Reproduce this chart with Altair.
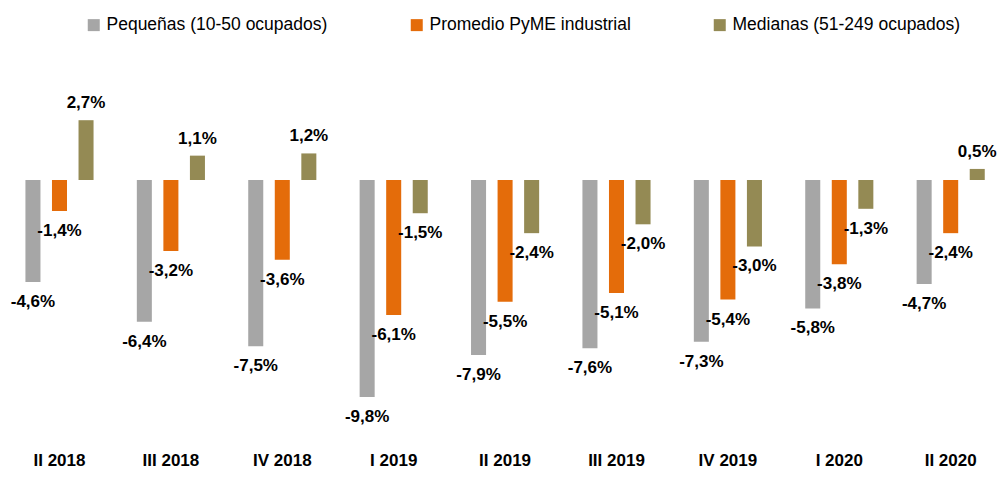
import altair as alt
import pandas as pd

periods = ["II 2018", "III 2018", "IV 2018", "I 2019", "II 2019", "III 2019", "IV 2019", "I 2020", "II 2020"]
series = ["Pequeñas (10-50 ocupados)", "Promedio PyME industrial", "Medianas (51-249 ocupados)"]
pequenas = [-4.6, -6.4, -7.5, -9.8, -7.9, -7.6, -7.3, -5.8, -4.7]
promedio = [-1.4, -3.2, -3.6, -6.1, -5.5, -5.1, -5.4, -3.8, -2.4]
medianas = [2.7, 1.1, 1.2, -1.5, -2.4, -2.0, -3.0, -1.3, 0.5]
colors = ["#A6A6A6", "#E46C0A", "#948A54"]

rows = []
for s, vals in zip(series, [pequenas, promedio, medianas]):
    for p, v in zip(periods, vals):
        rows.append({"periodo": p, "serie": s, "valor": v,
                     "etiqueta": f"{v:.1f}%".replace(".", ",")})
df = pd.DataFrame(rows)

FONT = "Liberation Sans, Arial"

x = alt.X("periodo:N", sort=periods, title=None,
          scale=alt.Scale(paddingInner=0.2837, paddingOuter=0.0853, align=0.61),
          axis=alt.Axis(labelAngle=0, labelFont=FONT, labelFontSize=17, labelFontWeight="bold",
                        labelColor="#000000", ticks=False, domain=False, labelPadding=12,
                        labelBaseline="top", grid=False))
xo = alt.XOffset("serie:N", sort=series,
                 scale=alt.Scale(paddingInner=0.434, paddingOuter=0.22))
y = alt.Y("valor:Q", title=None, scale=alt.Scale(domain=[-11.738, 4.515], nice=False, zero=False),
          axis=None)

base = alt.Chart(df)

bars = base.mark_bar().encode(
    x=x, xOffset=xo, y=y, y2=alt.datum(0),
    color=alt.Color("serie:N", sort=series, scale=alt.Scale(domain=series, range=colors),
                    legend=alt.Legend(title=None, orient="none", legendX=77, legendY=-64,
                                      direction="horizontal", columns=3, columnPadding=80,
                                      symbolType="square", symbolSize=144, symbolStrokeWidth=0,
                                      labelFont=FONT, labelFontSize=17.5, labelColor="#000000",
                                      labelOffset=4, padding=0, labelLimit=400)),
)

pos = base.transform_filter("datum.valor >= 0").mark_text(
    baseline="middle", dy=-17, font=FONT, fontSize=17, fontWeight="bold", color="#000000"
).encode(x=x, xOffset=xo, y=y, text="etiqueta:N")

neg = base.transform_filter("datum.valor < 0").mark_text(
    baseline="middle", dy=20, font=FONT, fontSize=17, fontWeight="bold", color="#000000"
).encode(x=x, xOffset=xo, y=y, text="etiqueta:N")

chart = (bars + pos + neg).properties(
    width=990, height=360,
    background="#FFFFFF",
    autosize=alt.AutoSizeParams(type="none"),
    padding={"left": 0, "right": 0, "top": 72, "bottom": 30},
).configure_view(strokeWidth=0, stroke=None)

chart.save("out.html", embed_options={"renderer": "svg", "actions": False})
